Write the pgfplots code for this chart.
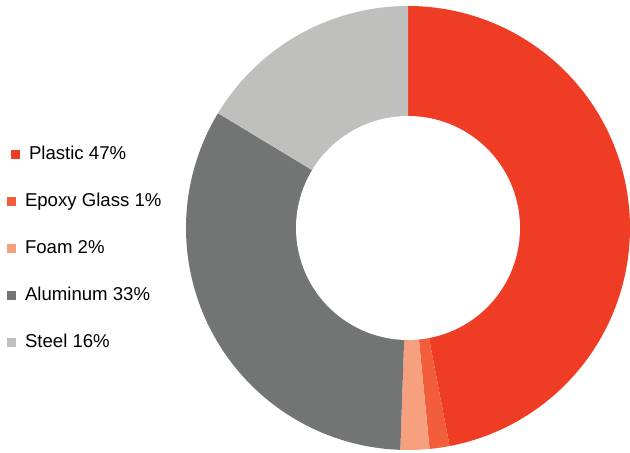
\documentclass[border=0pt]{standalone}
\usepackage{pgfplots}
\usepackage{pgfplotstable}
\pgfplotsset{compat=1.18}
\usepackage{fontspec}
\setmainfont{Liberation Sans}
\definecolor{cPlastic}{RGB}{239,60,37}
\definecolor{cEpoxy}{RGB}{242,93,60}
\definecolor{cFoam}{RGB}{247,160,128}
\definecolor{cAlu}{RGB}{115,117,116}
\definecolor{cSteel}{RGB}{191,191,190}
\pgfplotstableread{
name value color
Plastic 47.0 cPlastic
Epoxy 1.45 cEpoxy
Foam 2.1 cFoam
Aluminum 33.1 cAlu
Steel 16.35 cSteel
}\donutdata
\begin{document}
\begin{tikzpicture}
\begin{axis}[
  scale only axis, width=630bp, height=453bp,
  xmin=0, xmax=630, ymin=0, ymax=453,
  hide axis, clip=false,
  legend style={at={(axis cs:7,204)}, anchor=west, draw=none, fill=none,
    inner sep=0pt, outer sep=0pt,
    font=\fontsize{18.6bp}{22bp}\selectfont,
    nodes={inner ysep=0pt, inner xsep=0bp, text height=13bp, text depth=3bp},
    /tikz/every odd column/.append style={column sep=5bp},
    row sep=31bp},
  legend cell align=left,
  legend image code/.code={\fill[#1, draw=none] (0bp,-4.5bp) rectangle (9bp,4.5bp);},
]
\def\cum{0}
\pgfplotstablegetrowsof{\donutdata}
\pgfmathtruncatemacro\nrows{\pgfplotsretval-1}
\pgfplotsforeachungrouped \i in {0,...,\nrows}{
  \pgfplotstablegetelem{\i}{value}\of\donutdata \let\v\pgfplotsretval
  \pgfplotstablegetelem{\i}{color}\of\donutdata \let\c\pgfplotsretval
  \pgfmathsetmacro\a{\cum*3.6}
  \pgfmathsetmacro\b{(\cum+\v)*3.6}
  \edef\temp{\noexpand\addplot[fill=\c, draw=none, forget plot, domain=\a:\b, samples=90, smooth] ({408+222*sin(x)},{225+222*cos(x)}) -- (axis cs:408,225) -- cycle;}
  \temp
  \pgfmathsetmacro\cum{\cum+\v}
}
\addplot[fill=white, draw=none, forget plot, domain=0:360, samples=180] ({408+112*sin(x)},{225+112*cos(x)}) -- cycle;
\addlegendimage{fill=cPlastic, draw=none, xshift=4bp}
\addlegendentry{\hspace{4bp}Plastic 47\%}
\addlegendimage{fill=cEpoxy, draw=none}
\addlegendentry{Epoxy Glass 1\%}
\addlegendimage{fill=cFoam, draw=none}
\addlegendentry{Foam 2\%}
\addlegendimage{fill=cAlu, draw=none}
\addlegendentry{Aluminum 33\%}
\addlegendimage{fill=cSteel, draw=none}
\addlegendentry{Steel 16\%}
\end{axis}
\pgfresetboundingbox
\path (0,0) rectangle (630bp,453bp);
\end{tikzpicture}
\end{document}
